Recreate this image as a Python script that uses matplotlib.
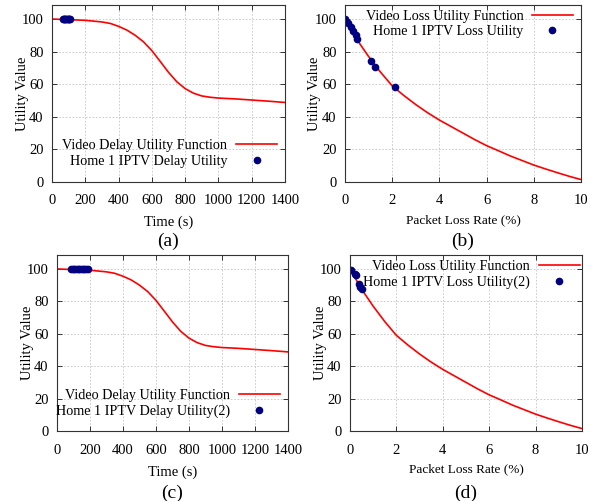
import matplotlib
matplotlib.use('Agg')
import matplotlib.pyplot as plt

# delay utility function (time in s -> utility)
delay_t = [0, 100, 200, 300, 350, 400, 450, 500, 550, 600, 650, 700, 750, 800,
           850, 900, 950, 1000, 1100, 1200, 1300, 1400]
delay_u = [100, 99.6, 99.2, 98.2, 97.3, 95.5, 93.2, 90, 86, 80.6, 74, 67.3, 61.5,
           57.3, 54.5, 52.8, 52, 51.5, 51, 50.3, 49.6, 48.8]

# loss utility function (packet loss % -> utility)
loss_x = [0, 0.5, 1, 1.5, 2, 2.5, 3, 3.5, 4, 4.5, 5, 5.5, 6, 6.5, 7, 7.5, 8, 8.5,
          9, 9.5, 10]
loss_u = [100, 87.5, 77, 67.5, 59, 53, 47.5, 42.5, 38, 34, 30, 26, 22.3, 19.2,
          16, 13.2, 10.4, 8, 5.7, 3.5, 1.5]

# measured points
home1_delay_t = [65, 70, 75, 80, 85, 90, 95, 100, 105, 110]
home1_delay_u = [99.8] * len(home1_delay_t)
home1_delay2_t = [85, 95, 105, 115, 125, 135, 145, 155, 165, 175, 185]
home1_delay2_u = [99.8] * len(home1_delay2_t)

home1_loss_x = [0, 0.13, 0.25, 0.34, 0.47, 0.5, 1.12, 1.28, 2.1]
home1_loss_u = [100, 97.5, 95, 92.5, 90, 87.7, 74, 70.8, 58.2]
home1_loss2_x = [0.04, 0.2, 0.25, 0.38, 0.45, 0.52]
home1_loss2_u = [99.5, 97, 96, 90.5, 89, 87.7]

plt.rcParams['font.family'] = ['Liberation Serif', 'DejaVu Serif']

RED = '#ff0000'
NAVY = '#000080'

fig = plt.figure(figsize=(5.96, 5.01), dpi=100)

W, H = 596.0, 501.0
def box(l, t, r, b):
    return [l / W, 1 - b / H, (r - l) / W, (b - t) / H]

axa = fig.add_axes(box(52, 5, 285, 182))
axb = fig.add_axes(box(345, 5, 581, 182))
axc = fig.add_axes(box(57, 255, 288, 431))
axd = fig.add_axes(box(350, 255, 582, 431))


def style(ax, xmax, xstep):
    ax.set_xlim(0, xmax)
    ax.set_ylim(0, 108.6)
    ax.set_xticks(range(0, xmax + 1, xstep))
    ax.set_yticks(range(0, 101, 20))
    ax.tick_params(direction='in', top=True, right=True, length=3.5,
                   width=0.7, color='#333333', labelsize=10.5, pad=6)
    ax.tick_params(axis='x', pad=9)
    ax.grid(True, color='#c4c4c4', linestyle=(0, (2, 2)), linewidth=0.6)
    for s in ax.spines.values():
        s.set_color('#333333')
        s.set_linewidth(0.8)
    ax.set_ylabel('Utility Value', fontsize=10.5)
    ax.yaxis.set_label_coords(-0.10, 0.5)


def legend(ax, x, y):
    leg = ax.legend(loc='center right', bbox_to_anchor=(x, y), frameon=False,
                    markerfirst=False, numpoints=1, fontsize=10.2,
                    handlelength=2.9, handletextpad=0.6, labelspacing=0.15,
                    borderpad=0, borderaxespad=0)
    leg._legend_handle_box.get_children()[0].align = 'right'


# (a)
axa.plot(delay_t, delay_u, color=RED, lw=1.2, label='Video Delay Utility Function')
axa.plot(home1_delay_t, home1_delay_u, 'o', color=NAVY, ms=4.5,
         label='Home 1 IPTV Delay Utility')
style(axa, 1400, 200)
axa.set_xlabel('Time (s)', fontsize=10.5)
axa.xaxis.set_label_coords(0.5, -0.19)
legend(axa, 0.966, 0.161)
axa.text(0.5, -0.335, '(a)', transform=axa.transAxes, ha='center', va='center',
         fontsize=14)

# (b)
axb.plot(loss_x, loss_u, color=RED, lw=1.2, label='Video Loss Utility Function')
axb.plot(home1_loss_x, home1_loss_u, 'o', color=NAVY, ms=4.5,
         label='Home 1 IPTV Loss Utility')
style(axb, 10, 2)
axb.set_xlabel('Packet Loss Rate (%)', fontsize=9.5)
axb.xaxis.set_label_coords(0.5, -0.185)
legend(axb, 0.966, 0.893)
axb.text(0.5, -0.335, '(b)', transform=axb.transAxes, ha='center', va='center',
         fontsize=14)

# (c)
axc.plot(delay_t, delay_u, color=RED, lw=1.2, label='Video Delay Utility Function')
axc.plot(home1_delay2_t, home1_delay2_u, 'o', color=NAVY, ms=4.5,
         label='Home 1 IPTV Delay Utility(2)')
style(axc, 1400, 200)
axc.set_xlabel('Time (s)', fontsize=10.5)
axc.xaxis.set_label_coords(0.5, -0.195)
legend(axc, 0.965, 0.156)
axc.text(0.5, -0.355, '(c)', transform=axc.transAxes, ha='center', va='center',
         fontsize=14)

# (d)
axd.plot(loss_x, loss_u, color=RED, lw=1.2, label='Video Loss Utility Function')
axd.plot(home1_loss2_x, home1_loss2_u, 'o', color=NAVY, ms=4.5,
         label='Home 1 IPTV Loss Utility(2)')
style(axd, 10, 2)
axd.set_xlabel('Packet Loss Rate (%)', fontsize=9.5)
axd.xaxis.set_label_coords(0.5, -0.185)
legend(axd, 0.99, 0.889)
axd.text(0.5, -0.355, '(d)', transform=axd.transAxes, ha='center', va='center',
         fontsize=14)

fig.savefig('out.png', dpi=100)
